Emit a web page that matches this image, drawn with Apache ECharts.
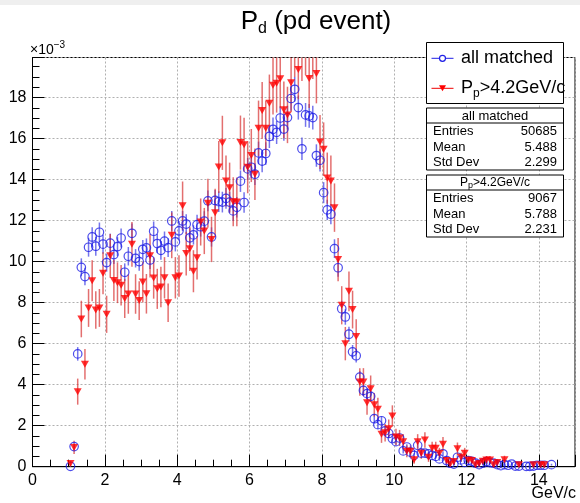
<!DOCTYPE html>
<html><head><meta charset="utf-8">
<script src="https://cdn.jsdelivr.net/npm/echarts@6/dist/echarts.min.js"></script>
<style>html,body{margin:0;padding:0;background:#fff}#c{width:580px;height:503px}</style>
</head><body><div id="c"></div>
<script>
// Histogram binning (GeV/c): first filled bin starts at 1.0, bins 0.1 wide
const binStart = 1.0;
const binWidth = 0.1;
// values in units of 1e-3 (normalised histogram content); null = empty bin
const allMatched = [
 0.02,0.98,5.5,9.72,9.27,10.7,11.2,10.75,11.43,10.85,
 9.95,10.9,10.34,10.73,11.15,9.48,10.26,11.38,10.16,10.0,
 10.6,10.67,10.08,11.48,10.88,10.55,11.0,10.68,11.98,10.96,
 11.5,11.98,11.83,11.16,11.3,11.8,11.7,11.97,12.96,11.2,
 12.98,12.92,12.9,13.08,12.9,12.47,12.65,13.92,12.88,14.52,
 14.6,14.26,15.3,14.9,15.27,16.1,16.45,16.3,17.0,16.46,
 17.02,17.95,18.4,17.51,15.5,17.15,17.1,17.02,15.17,14.94,
 13.36,12.52,12.31,10.63,9.7,7.7,7.3,6.46,5.6,5.41,
 4.37,3.72,3.56,3.43,2.34,2.05,2.24,1.75,1.62,1.37,
 1.22,1.4,0.77,0.96,0.71,0.55,1.04,0.66,0.66,0.63,
 0.55,0.5,0.38,0.63,0.30,0.17,0.13,0.46,0.33,0.21,
 0.30,0.26,0.17,0.1,0.17,0.25,0.2,0.17,0.1,0.05,
 0.1,0.07,0.13,0.03,0.03,null,0.02,0.02,0.03,0.07,
 0.07,0.07,null,0.1
];
const ppCut = [
 0.15,0.94,3.66,7.2,5.0,7.74,9.07,7.64,7.74,9.43,
 7.43,10.28,9.08,8.97,8.85,8.2,8.42,10.84,8.42,8.1,
 9.0,8.43,10.29,9.2,8.67,8.76,9.21,7.99,11.28,9.21,
 9.3,12.72,10.39,10.62,9.53,10.19,11.93,11.49,12.85,11.08,
 12.38,14.61,15.79,13.93,13.6,12.92,12.91,15.8,15.7,14.6,
 15.17,14.26,16.5,17.37,16.5,17.72,18.6,18.7,18.92,17.4,
 17.15,18.72,20.5,19.37,20.3,20.6,18.93,20.4,19.17,15.83,
 15.48,14.07,13.93,12.63,10.1,7.87,6.0,8.55,7.66,6.35,
 4.13,4.13,3.12,3.8,3.02,2.8,1.58,1.65,1.85,2.47,
 1.45,1.4,1.22,0.75,0.75,0.34,1.22,0.65,1.3,0.46,
 0.9,0.9,0.65,1.1,0.3,0.13,0.25,0.87,0.46,0.65,
 0.33,0.3,0.1,0.16,0.26,0.33,0.33,0.1,0.21,null,
 0.34,null,null,null,0.1,null,null,null,0.1,null,
 0.1,0.1
];
const entriesAll = 50685, entriesCut = 9067;
const statsLabels = ['Entries','Mean','Std Dev'];
const statsAll = ['50685','5.488','2.299'];
const statsCut = ['9067','5.788','2.231'];

const X_MAX = 15, Y_MAX = 19.95;
const FONT = '"Liberation Sans", Helvetica, Arial, sans-serif';

function pts(arr){
  const out=[];
  arr.forEach((v,i)=>{ if(v!==null) out.push([binStart+binWidth*(i+0.5), v]); });
  return out;
}
// Poisson error of a normalised histogram bin: sqrt(n)/N, in units of 1e-3
function errs(arr, N){
  return pts(arr).map(p=>{ const e=Math.sqrt(p[1]*1000/N); return [p[0], p[1]-e, p[1]+e]; });
}
function errSeries(data, color){
  return {type:'custom', data:data, encode:{x:0,y:[1,2]}, z:2,
    renderItem:function(params, api){
      const x=api.value(0);
      const lo=Math.max(0, api.value(1)), hi=Math.min(Y_MAX, api.value(2));
      if(lo>=Y_MAX) return null;
      const a=api.coord([x,lo]), b=api.coord([x,hi]);
      return {type:'line', shape:{x1:a[0],y1:a[1],x2:b[0],y2:b[1]}, style:{stroke:color, lineWidth:1.5}};
    }};
}

const chart = echarts.init(document.getElementById('c'), null, {renderer:'canvas'});
const axisCommon = {
  axisLine:{show:true, lineStyle:{color:'#000', width:1}},
  axisTick:{show:true, inside:true, length:12, lineStyle:{color:'#000'}},
  minorTick:{show:true, splitNumber:4, length:7, lineStyle:{color:'#000'}},
  splitLine:{show:true, lineStyle:{color:'#b0b0b0', type:[2,2], width:1}},
  axisLabel:{color:'#000', fontSize:16, fontFamily:FONT, showMaxLabel:false, margin:6},
};
const legendY1 = 58.3, legendY2 = 88.3;
function statsBox(top, titleRich, vals){
  const els=[
    {type:'rect', shape:{x:426.5,y:top,width:137,height:62}, style:{fill:'#fff', stroke:'#000', lineWidth:1}, z:10},
    {type:'line', shape:{x1:426.5,y1:top+15,x2:563.5,y2:top+15}, style:{stroke:'#000', lineWidth:1}, z:11},
    {type:'text', x:495, y:top+8, style:Object.assign({textAlign:'center', textVerticalAlign:'middle', fontFamily:FONT, fontSize:13, fill:'#000'}, titleRich), z:11}
  ];
  const rows=[top+23.5, top+39, top+54.5];
  statsLabels.forEach((l,i)=>{
    els.push({type:'text', x:433, y:rows[i], style:{text:l, textVerticalAlign:'middle', fontFamily:FONT, fontSize:13, fill:'#000'}, z:11});
    els.push({type:'text', x:557, y:rows[i], style:{text:vals[i], textAlign:'right', textVerticalAlign:'middle', fontFamily:FONT, fontSize:13, fill:'#000'}, z:11});
  });
  return els;
}

chart.setOption({
  animation:false,
  backgroundColor:'#fff',
  grid:{left:32.5, top:57.5, right:5, bottom:36.3, show:true, borderColor:'#000', borderWidth:1, backgroundColor:'transparent'},
  xAxis:Object.assign({type:'value', min:0, max:X_MAX, interval:2}, axisCommon),
  yAxis:Object.assign({type:'value', min:0, max:Y_MAX, interval:2}, axisCommon),
  series:[
    errSeries(errs(allMatched, entriesAll), 'rgba(70,70,230,0.75)'),
    {type:'scatter', data:pts(allMatched), symbol:'circle', symbolSize:8.5, z:3,
     itemStyle:{color:'rgba(255,255,255,0)', borderColor:'#1f1fe6', borderWidth:1.2}},
    errSeries(errs(ppCut, entriesCut), 'rgba(215,50,50,0.7)'),
    {type:'scatter', data:pts(ppCut), symbol:'triangle', symbolRotate:180, symbolSize:[8,7], z:4,
     itemStyle:{color:'#f00'}}
  ],
  graphic:[
    {type:'rect', shape:{x:0,y:0,width:580,height:5}, style:{fill:'#efefef'}, z:20},
    {type:'text', x:316, y:22, z:10, style:{text:'P{s|d} (pd event)', rich:{s:{fontSize:16, fontFamily:FONT, padding:[14,0,0,0]}},
      textAlign:'center', textVerticalAlign:'middle', fontFamily:FONT, fontSize:26, fill:'#000'}},
    {type:'text', x:30, y:50, z:10, style:{text:'\u00d710{sup|\u22123}', rich:{sup:{fontSize:10, fontFamily:FONT, padding:[0,0,10,0]}},
      textVerticalAlign:'middle', fontFamily:FONT, fontSize:14, fill:'#000'}},
    {type:'text', x:576, y:494, z:10, style:{text:'GeV/c', textAlign:'right', textVerticalAlign:'middle', fontFamily:FONT, fontSize:16, fill:'#000'}},
    // legend
    {type:'rect', shape:{x:426.5,y:42.5,width:137,height:61}, style:{fill:'#fff', stroke:'#000', lineWidth:1}, z:10},
    {type:'line', shape:{x1:431.5,y1:legendY1,x2:453.5,y2:legendY1}, style:{stroke:'#1f1fe6', lineWidth:1}, z:11},
    {type:'circle', shape:{cx:442.5,cy:legendY1,r:3}, style:{fill:'#fff', stroke:'#1f1fe6', lineWidth:1.2}, z:12},
    {type:'text', x:461, y:legendY1, style:{text:'all matched', textVerticalAlign:'middle', fontFamily:FONT, fontSize:18, fill:'#000'}, z:11},
    {type:'line', shape:{x1:431.5,y1:legendY2,x2:453.5,y2:legendY2}, style:{stroke:'#e00', lineWidth:1}, z:11},
    {type:'polygon', shape:{points:[[439,legendY2-3],[446,legendY2-3],[442.5,legendY2+3]]}, style:{fill:'#f00'}, z:12},
    {type:'text', x:461, y:legendY2, style:{text:'P{s|p}>4.2GeV/c', rich:{s:{fontSize:12, fontFamily:FONT, padding:[10,0,0,0]}},
      textVerticalAlign:'middle', fontFamily:FONT, fontSize:18, fill:'#000'}, z:11}
  ]
  .concat(statsBox(108, {text:'all matched'}, statsAll))
  .concat(statsBox(175, {text:'P{s|p}>4.2GeV/c', fontSize:12, rich:{s:{fontSize:9, fontFamily:FONT, padding:[6,0,0,0]}}}, statsCut))
});
</script></body></html>
